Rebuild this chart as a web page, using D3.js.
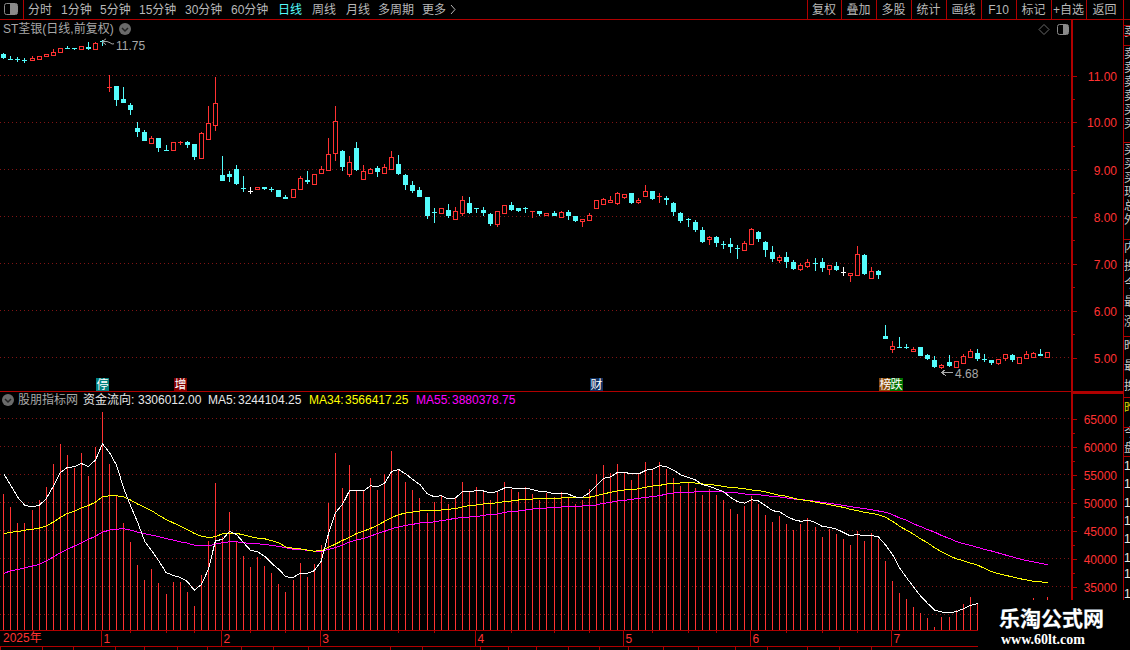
<!DOCTYPE html>
<html>
<head>
<meta charset="utf-8">
<script src="https://cdn.jsdelivr.net/npm/d3@7"></script>
<style>
html,body{margin:0;padding:0;background:#000;overflow:hidden;}
svg{display:block;}
text{font-family:"Liberation Sans","Noto Sans CJK SC",sans-serif;font-size:12px;}
</style>
</head>
<body>
<div id="chart"></div>
<script>
// daily candles
const opens=[11.44,11.35,11.34,11.32,11.31,11.35,11.40,11.43,11.48,11.58,
11.57,11.55,11.60,11.55,11.73,10.73,10.77,10.48,10.37,9.88,
9.79,9.55,9.65,9.41,9.40,9.55,9.58,9.54,9.23,9.64,
9.94,8.88,8.90,9.01,8.60,8.54,8.57,8.62,8.57,8.55,
8.41,8.40,8.57,8.77,8.69,8.91,8.97,9.34,9.39,8.89,
9.45,8.78,8.91,9.02,8.91,9.01,9.11,8.88,8.65,8.56,
8.41,8.09,8.07,8.13,7.93,8.06,8.28,8.18,8.13,8.05,
7.84,8.07,8.24,8.17,8.17,8.10,8.11,8.02,8.07,7.97,
8.09,7.99,7.89,7.91,8.18,8.26,8.29,8.28,8.40,8.48,
8.30,8.43,8.54,8.40,8.39,8.28,8.07,7.94,7.88,7.71,
7.50,7.56,7.41,7.41,7.31,7.27,7.40,7.67,7.45,7.24,
7.06,7.13,7.02,6.87,6.94,7.01,7.02,6.87,6.94,6.81,
6.74,6.74,7.18,6.69,6.82,5.45,5.16,5.22,5.22,5.12,
5.22,5.05,4.94,4.79,4.89,4.79,4.88,5.01,5.09,4.96,
4.94,4.87,4.97,5.04,4.88,4.98,5.01,5.07,5.01];
const closes=[11.37,11.33,11.32,11.30,11.37,11.40,11.45,11.48,11.57,11.57,
11.55,11.62,11.55,11.68,11.71,10.75,10.46,10.41,10.26,9.78,
9.60,9.67,9.45,9.40,9.57,9.58,9.52,9.26,9.77,9.98,
10.40,8.75,8.84,8.68,8.59,8.54,8.62,8.58,8.56,8.40,
8.37,8.57,8.81,8.72,8.89,9.00,9.32,10.02,9.04,9.15,
8.97,8.96,9.01,8.93,9.04,9.26,8.90,8.65,8.54,8.41,
8.01,8.08,8.17,8.01,8.11,8.34,8.07,8.16,8.07,7.82,
8.11,8.23,8.13,8.11,8.15,8.11,8.05,8.06,8.01,8.09,
8.01,7.90,7.94,8.03,8.35,8.37,8.34,8.48,8.47,8.28,
8.33,8.53,8.37,8.43,8.33,8.09,7.90,7.92,7.71,7.45,
7.55,7.43,7.39,7.33,7.30,7.43,7.73,7.50,7.27,7.09,
7.12,7.03,6.88,6.96,7.02,6.99,6.90,6.96,6.86,6.81,
6.79,7.19,6.76,6.84,6.74,5.39,5.24,5.21,5.21,5.18,
5.03,4.96,4.79,4.82,4.80,4.91,5.02,5.13,4.96,4.94,
4.88,4.96,5.06,4.94,5.01,5.06,5.08,5.03,5.10];
const highs=[11.46,11.40,11.38,11.36,11.41,11.40,11.45,11.55,11.58,11.62,
11.57,11.62,11.70,11.70,11.75,11.00,10.77,10.74,10.41,9.99,
9.83,9.71,9.67,9.51,9.57,9.60,9.60,9.54,9.78,10.33,
10.96,9.28,8.96,9.09,8.86,8.62,8.62,8.62,8.61,8.56,
8.45,8.57,8.85,8.96,8.89,9.07,9.65,10.33,9.40,9.28,
9.58,9.09,9.02,9.07,9.11,9.38,9.30,8.90,8.75,8.62,
8.41,8.16,8.18,8.26,8.19,8.43,8.40,8.18,8.19,8.07,
8.11,8.23,8.30,8.17,8.19,8.11,8.11,8.06,8.11,8.11,
8.13,8.01,7.94,8.07,8.35,8.39,8.43,8.52,8.47,8.48,
8.39,8.65,8.54,8.50,8.43,8.30,8.09,7.96,7.91,7.77,
7.58,7.58,7.47,7.54,7.39,7.47,7.74,7.68,7.47,7.37,
7.17,7.24,7.06,7.01,7.09,7.11,7.11,6.96,7.03,6.92,
6.79,7.37,7.19,6.92,6.86,5.69,5.33,5.43,5.27,5.22,
5.22,5.07,5.03,4.86,5.05,4.91,5.07,5.16,5.16,5.07,
4.94,4.96,5.07,5.07,5.01,5.13,5.11,5.16,5.10];
const lows=[11.35,11.32,11.28,11.26,11.31,11.35,11.40,11.43,11.47,11.57,
11.53,11.53,11.53,11.55,11.61,10.63,10.35,10.40,10.14,9.69,
9.59,9.55,9.37,9.40,9.40,9.52,9.45,9.20,9.23,9.64,
9.80,8.75,8.73,8.65,8.52,8.46,8.57,8.55,8.52,8.40,
8.37,8.40,8.57,8.68,8.65,8.89,8.96,9.16,8.95,8.84,
8.95,8.77,8.89,8.84,8.90,9.00,8.88,8.55,8.50,8.41,
7.94,7.86,8.05,7.96,7.93,8.01,8.05,8.07,8.01,7.79,
7.77,8.05,8.11,8.09,8.07,7.96,8.01,7.99,7.99,7.97,
7.92,7.88,7.77,7.91,8.18,8.24,8.29,8.24,8.37,8.26,
8.26,8.41,8.35,8.28,8.24,8.01,7.86,7.77,7.65,7.43,
7.39,7.35,7.30,7.22,7.09,7.25,7.40,7.45,7.13,7.03,
7.01,6.90,6.86,6.84,6.89,6.84,6.80,6.75,6.84,6.73,
6.60,6.74,6.74,6.67,6.65,5.39,5.09,5.20,5.16,5.12,
5.03,4.94,4.77,4.75,4.78,4.79,4.88,5.01,4.92,4.89,
4.82,4.84,4.92,4.90,4.88,4.98,5.01,5.03,5.01];

// 资金流向 bars and its three moving averages (in tick units)
const flow=[51345,49024,46168,46168,48489,50274,52594,56700,60270,58306,
55986,58663,54558,59734,66160,56700,51047,46168,42777,38671,
35994,37957,35458,33495,35637,35637,33852,31353,36886,42955,
53308,43788,48132,42777,40278,38314,40099,38493,37243,35280,
33852,35994,39028,36529,38850,42241,49738,58663,52416,56521,
51880,51880,54347,52205,55061,59167,55775,53633,52205,50777,
48100,50004,51015,49706,50718,53633,51789,52741,51789,50420,
51789,53633,52384,51848,52741,51491,50420,51610,50956,51848,
50777,49706,50420,52384,55061,56668,55240,56846,55240,53990,
55061,57203,55775,57203,55954,54347,52919,53633,52562,51313,
52324,51313,50420,48814,47921,49345,51130,49702,47739,46490,
47560,46132,45061,46132,47203,45597,43812,45240,44347,43455,
42384,44883,43098,44526,43455,39528,35958,33816,32745,31317,
30246,29353,27747,29532,29532,30781,31852,33102,31852,30500,
30000,29800,30200,30500,30900,31500,32864,31800,33060];
const ma5=[55034,52951,50809,49381,49143,49381,50571,52772,55212,56164,
56283,56878,56283,57532,60388,58782,56521,52415,49262,46287,
42895,41229,39444,37421,36886,36529,35815,34268,35220,37957,
43074,43312,44740,44204,42717,41348,41110,40277,39028,37957,
36648,36529,37243,37243,37719,39444,44204,48072,49559,51999,
51999,51999,52891,52713,53396,55478,55776,55002,53991,53099,
51492,50956,51135,50540,50718,51789,51849,52027,51968,51611,
51908,52503,52503,52325,52503,52206,51849,51789,51492,51492,
51432,50897,50837,51611,52920,54229,54467,55300,55300,55002,
55002,55657,55895,56490,56252,55657,54824,54407,53991,53099,
52801,52325,51908,50837,50064,49800,50417,50179,49346,48453,
48215,47442,46847,46549,46787,46371,45657,45478,45181,44586,
43931,44229,43931,44050,43753,42325,40599,38219,36434,34768,
33162,31853,30663,30365,30187,30425,30901,31496,31853,31900,
31800,31700,31600,31700,31800,32000,32100,32300,32441];
const ma34=[44323,44621,44680,44978,45097,45335,45692,46406,47239,47953,
48310,48964,49381,49976,50928,51106,51106,50928,50333,49619,
49024,48429,47596,46882,46287,45692,45097,44383,43907,43669,
43788,44323,44323,44383,44145,43788,43550,43431,43074,42717,
41943,41765,41646,41408,41229,41289,41884,42479,43133,43669,
44383,44799,45275,45870,46553,47208,47743,48041,48219,48398,
48398,48398,48576,48695,48814,49112,49350,49469,49647,49707,
49885,50064,50183,50361,50361,50540,50540,50540,50600,50718,
50718,50778,50778,50837,51135,51432,51730,51968,52146,52146,
52384,52622,52860,52979,53218,53336,53396,53396,53396,53218,
53158,52979,52801,52563,52504,52385,52146,52083,51786,51488,
51190,51012,50655,50417,50239,50000,49763,49525,49286,49048,
48691,48453,48156,47977,47740,47263,46549,45657,44943,44229,
43396,42682,41790,41076,40421,39886,39530,39112,38755,38160,
37565,37208,36910,36613,36315,36077,35840,35720,35664];
const ma55=[37243,37719,37957,38254,38552,38849,39444,40158,40932,41527,
42122,42717,43312,43907,44621,44978,45156,45216,44978,44621,
44323,44085,43788,43490,43193,42895,42657,42300,42181,42181,
42479,42717,42895,42895,42717,42598,42538,42419,42241,42062,
41824,41586,41467,41408,41229,41170,41527,41824,42300,42836,
43252,43490,43907,44383,44768,45244,45542,45839,46018,46256,
46375,46435,46672,46851,47089,47208,47327,47387,47624,47803,
47862,48160,48339,48398,48576,48755,48755,48934,48934,49112,
49112,49172,49291,49291,49469,49766,49945,50183,50302,50481,
50659,50838,50957,51135,51432,51611,51611,51730,51790,51790,
51790,51790,51790,51611,51611,51432,51369,51310,51131,51012,
50893,50715,50536,50417,50298,50119,49941,49763,49584,49406,
49168,48989,48811,48632,48394,48156,47740,47145,46728,46073,
45598,45062,44586,43991,43515,42980,42563,42266,41909,41553,
41254,40897,40540,40183,39826,39530,39292,39053,38804];

const priceTicks=[5,6,7,8,9,10,11];
const priceMinor=[5.5,6.5,7.5,8.5,9.5,10.5];
const flowTicks=[35000,40000,45000,50000,55000,60000,65000];
const flowMinor=[37500,42500,47500,52500,57500,62500];
const flowGridExtra=[30000];
const monthStarts=[14,31,45,67,88,106,126];
const monthLabels=["1","2","3","4","5","6","7"];
const weekTicks=[18,23,27,35,40,56,61,72,78,83,92,97,101,111,116,121];
const noteIdx=[14,25,84,125,126.6];
const noteText=["停","增","财","榜","跌"];
const noteFill=["#008080","#800000","#103060","#8b4a08","#007000"];
const toolLeft=["分时","1分钟","5分钟","15分钟","30分钟","60分钟","日线","周线","月线","多周期","更多"];
const toolLeftX=[28,61,100,139,185,231,278,312,346,378,422];
const toolRight=["复权","叠加","多股","统计","画线","F10","标记","+自选","返回"];
const toolRightX=[807,841,876,911,946,981,1016,1051,1086,1123];
const bottomSeps=[0,42,73,115,144,177,207,241,273,308,390,422,480,508,536,568,599,628,663,698,735,767,807,839,871];

const width=1130,height=650;
const axisX=1072,flowBase=630;
const RED="#ff3232",CYAN="#54fcfc",LINE="#b00000",GRID="#801414",TXT="#b8b8b8";

const x=d3.scaleLinear().domain([0,148]).range([3.3,1047.3]);
const yPrice=d3.scaleLinear().domain([5,11]).range([357,75]);
const yFlow=d3.scaleLinear().domain([35000,65000]).range([586,418]);
const px=(v)=>Math.round(v)+0.5;

const svg=d3.select("#chart").append("svg").attr("width",width).attr("height",height)
    .style("background","#000");

function hline(g,y,x1,x2,color,w){
    g.append("line").attr("x1",x1).attr("x2",x2).attr("y1",y).attr("y2",y)
    .attr("stroke",color).attr("stroke-width",w||1).attr("shape-rendering","crispEdges");
}
function vline(g,xv,y1,y2,color,w){
    g.append("line").attr("x1",xv).attr("x2",xv).attr("y1",y1).attr("y2",y2)
    .attr("stroke",color).attr("stroke-width",w||1).attr("shape-rendering","crispEdges");
}
function label(g,xv,y,s,color,anchor){
    return g.append("text").attr("x",xv).attr("y",y).attr("fill",color||TXT)
    .attr("text-anchor",anchor||"start").text(s);
}
function roundIcon(g,cx,cy){
    g.append("circle").attr("cx",cx).attr("cy",cy).attr("r",6).attr("fill","#6a6a6a");
    g.append("path").attr("d",`M${cx-3} ${cy-1}L${cx} ${cy+2}L${cx+3} ${cy-1}`)
    .attr("fill","none").attr("stroke","#222").attr("stroke-width",1.5);
}

// grid
const grid=svg.append("g");
grid.selectAll("line.p").data(priceTicks).enter().append("line").attr("class","p")
    .attr("x1",0).attr("x2",axisX).attr("y1",d=>px(yPrice(d))).attr("y2",d=>px(yPrice(d)))
    .attr("stroke",GRID).attr("stroke-dasharray","1 3");
grid.selectAll("line.f").data(flowTicks.concat(flowGridExtra)).enter().append("line").attr("class","f")
    .attr("x1",0).attr("x2",axisX).attr("y1",d=>px(yFlow(d))).attr("y2",d=>px(yFlow(d)))
    .attr("stroke",GRID).attr("stroke-dasharray","1 3");

// candles
const candles=opens.map((o,i)=>({i,o,c:closes[i],h:highs[i],l:lows[i]}));
const candleColor=(d)=>d.o===d.c?"#ffffff":(d.c>d.o?RED:CYAN);
const cg=svg.append("g").attr("shape-rendering","crispEdges");
cg.selectAll("line.wick").data(candles).enter().append("line").attr("class","wick")
    .attr("x1",d=>px(x(d.i))).attr("x2",d=>px(x(d.i)))
    .attr("y1",d=>Math.round(yPrice(d.h))).attr("y2",d=>Math.round(yPrice(d.l)))
    .attr("stroke",candleColor);
cg.selectAll("rect.body").data(candles).enter().append("rect").attr("class","body")
    .each(function(d){
        const top=Math.round(yPrice(Math.max(d.o,d.c)));
        const h=Math.round(yPrice(Math.min(d.o,d.c)))-top;
        const sel=d3.select(this);
        const left=Math.round(x(d.i))-2;
        if(d.c>d.o && h>=2){
            sel.attr("x",left+0.5).attr("y",top+0.5).attr("width",4).attr("height",h)
            .attr("fill","#000").attr("stroke",RED);
        }else{
            sel.attr("x",left).attr("y",top).attr("width",5).attr("height",Math.max(h,1))
            .attr("fill",candleColor(d));
        }
    });

// high / low notes
const notes=svg.append("g");
const hiY=yPrice(11.75)+1,loY=yPrice(4.68);
const hiX=x(14),loX=x(133);
notes.append("path").attr("d",`M${hiX} ${hiY+1}l4 -3M${hiX} ${hiY+1}l4 3M${hiX} ${hiY+1}q6 -1 8 1t4 1`)
    .attr("fill","none").attr("stroke","#a8a8a8");
label(notes,116,50,"11.75","#a8a8a8");
notes.append("path").attr("d",`M${loX} ${loY+0.5}h12M${loX} ${loY+0.5}l4 -3M${loX} ${loY+0.5}l4 3`)
    .attr("fill","none").attr("stroke","#a8a8a8").attr("shape-rendering","crispEdges");
label(notes,955,378,"4.68","#a8a8a8");

// event markers above the separator
const mk=svg.append("g");
mk.selectAll("rect").data(noteIdx).enter().append("rect")
    .attr("x",d=>Math.round(x(d))-6).attr("y",378).attr("width",13).attr("height",13)
    .attr("fill",(d,i)=>noteFill[i]);
mk.selectAll("text").data(noteIdx).enter().append("text")
    .attr("x",d=>Math.round(x(d))+0.5).attr("y",389).attr("text-anchor","middle")
    .attr("fill","#fff").text((d,i)=>noteText[i]);

// flow bars
const bars=svg.append("g").attr("shape-rendering","crispEdges");
bars.selectAll("line").data(flow).enter().append("line")
    .attr("x1",(d,i)=>px(x(i))).attr("x2",(d,i)=>px(x(i)))
    .attr("y1",d=>Math.round(yFlow(d))).attr("y2",flowBase)
    .attr("stroke",RED);

// moving averages
const maLine=d3.line().x((d,i)=>x(i)+0.5).y(d=>yFlow(d));
[[ma55,"#ff00ff"],[ma34,"#ffff00"],[ma5,"#ffffff"]].forEach(([arr,color])=>{
    svg.append("path").datum(arr).attr("d",maLine).attr("fill","none")
    .attr("stroke",color).attr("stroke-width",1).attr("shape-rendering","crispEdges");
});

// right strip, cut off by the window edge
const strip=svg.append("g");
strip.append("clipPath").attr("id","stripClip").append("rect")
    .attr("x",1124).attr("y",20).attr("width",6).attr("height",580);
const stripText=strip.append("g").attr("clip-path","url(#stripClip)");
const sideRows=["卖","卖","卖","卖","卖","买","买","买","买","买","现","总","外","内","换","今","最","涨","昨","最","换"];
const sideY=[36,58,72,86,100,114,128,154,168,182,196,210,224,252,270,288,306,326,350,370,390];
sideY.forEach((y,i)=>label(stripText,1124,y,sideRows[i],"#c8c8c8"));
label(stripText,1124,412,"昨","#d8d800");
label(stripText,1124,437,"今","#c8c8c8");
label(stripText,1124,452,"盘","#c8c8c8");
[470,488,507,525,543,562,578,598].forEach(y=>label(stripText,1124,y,"1","#e8e8e8"));

// frame lines
const frame=svg.append("g");
hline(frame,19.5,0,width,LINE);
vline(frame,23.5,0,19,LINE);
hline(frame,391.5,0,1123,LINE);
hline(frame,flowBase+0.5,0,1072,LINE);
hline(frame,646.5,0,1072,LINE);
vline(frame,axisX,19,650,LINE,2);
hline(frame,392.5,axisX,1123,LINE,2);
vline(frame,1123.5,19,600,LINE);
[25,35,45,142,239,336,397,427,456].forEach(y=>hline(frame,y+0.5,1123,width,LINE));
toolRightX.forEach(v=>vline(frame,v+0.5,0,19,LINE));
bottomSeps.forEach(v=>vline(frame,v+0.5,646,650,LINE));

// value axes
function styleAxis(g,color){
    g.select(".domain").remove();
    g.selectAll("line").attr("stroke",color).attr("shape-rendering","crispEdges");
    g.selectAll("text").attr("fill",RED).attr("text-anchor","end").attr("x",45)
    .style("font-size","12px").attr("dy","0.36em");
}
const tickY=(sel)=>sel.selectAll(".tick").attr("transform",function(){
    const m=d3.select(this).attr("transform").match(/,\s*([\d.]+)/);
    return "translate(0,"+px(+m[1])+")";
});
svg.append("g").attr("transform",`translate(${axisX},0)`)
    .call(d3.axisRight(yPrice).tickValues(priceTicks).tickSize(5).tickFormat(d3.format(".2f")))
    .call(tickY).call(g=>styleAxis(g,LINE));
svg.append("g").attr("transform",`translate(${axisX},0)`)
    .call(d3.axisRight(yPrice).tickValues(priceMinor).tickSize(3).tickFormat(""))
    .call(tickY).call(g=>styleAxis(g,LINE));
svg.append("g").attr("transform",`translate(${axisX},0)`)
    .call(d3.axisRight(yFlow).tickValues(flowTicks).tickSize(5).tickFormat(d3.format("d")))
    .call(tickY).call(g=>styleAxis(g,LINE));
svg.append("g").attr("transform",`translate(${axisX},0)`)
    .call(d3.axisRight(yFlow).tickValues(flowMinor).tickSize(3).tickFormat(""))
    .call(tickY).call(g=>styleAxis(g,LINE));

// time axis
const timeAxis=svg.append("g").attr("transform",`translate(-1,${flowBase})`)
    .call(d3.axisBottom(x).tickValues(monthStarts).tickSize(16)
    .tickFormat((d,i)=>monthLabels[i]));
timeAxis.select(".domain").remove();
timeAxis.selectAll("line").attr("stroke",LINE).attr("shape-rendering","crispEdges");
timeAxis.selectAll("text").attr("fill",RED).attr("text-anchor","start")
    .attr("x",2).attr("y",2).attr("dy","0.9em").style("font-size","12px");
const weekAxis=svg.append("g").attr("transform",`translate(0,${flowBase})`)
    .call(d3.axisBottom(x).tickValues(weekTicks).tickSize(3).tickFormat(""));
weekAxis.select(".domain").remove();
weekAxis.selectAll("line").attr("stroke",LINE).attr("shape-rendering","crispEdges");
label(svg,3,642,"2025年",RED);

// toolbar
const bar=svg.append("g");
bar.append("rect").attr("x",4.5).attr("y",3.5).attr("width",13).attr("height",11).attr("rx",2)
    .attr("fill","#000").attr("stroke","#8a8a8a");
bar.append("rect").attr("x",10).attr("y",4).attr("width",7).attr("height",10).attr("fill","#8a8a8a");
toolLeft.forEach((s,i)=>label(bar,toolLeftX[i],14,s,s==="日线"?CYAN:TXT));
bar.append("path").attr("d","M451 5l4 4.5l-4 4.5").attr("fill","none").attr("stroke",TXT);
toolRight.forEach((s,i)=>label(bar,(toolRightX[i]+toolRightX[i+1])/2,14,s,TXT,"middle"));

// pane headers
const head=svg.append("g");
label(head,3,33,"ST荃银(日线,前复权)","#a8a8a8");
roundIcon(head,125,29);
head.append("path").attr("d","M1044 24.5l5 5l-5 5l-5 -5z").attr("fill","none").attr("stroke","#6a6a6a");
head.append("rect").attr("x",1057.5).attr("y",24.5).attr("width",11).attr("height",10).attr("rx",2)
    .attr("fill","#000").attr("stroke","#8a8a8a");
head.append("rect").attr("x",1063).attr("y",25).attr("width",5).attr("height",9).attr("fill","#8a8a8a");
roundIcon(head,8,400);
label(head,18,404,"股朋指标网","#a8a8a8");
label(head,83,404,"资金流向:","#e8e8e8");
label(head,138,404,"3306012.00","#e8e8e8");
label(head,208,404,"MA5:","#e8e8e8");
label(head,238,404,"3244104.25","#e8e8e8");
label(head,309,404,"MA34:","#ffff00");
label(head,345,404,"3566417.25","#ffff00");
label(head,416,404,"MA55:","#ff00ff");
label(head,452,404,"3880378.75","#ff00ff");

// watermark block
const wm=svg.append("g");
wm.append("rect").attr("x",978).attr("y",600).attr("width",152).attr("height",50).attr("fill","#000");
wm.append("text").attr("x",999).attr("y",626).style("font-size","21px").style("font-weight","bold")
    .attr("fill","#fff").attr("stroke","#5a6a7a").attr("stroke-width",0.6).attr("paint-order","stroke")
    .text("乐淘公式网");
wm.append("text").attr("x",1001).attr("y",644).style("font-family","'Liberation Serif',serif")
    .style("font-size","14px").style("font-weight","bold").attr("fill","#fff")
    .text("www.60lt.com");
</script>
</body>
</html>
